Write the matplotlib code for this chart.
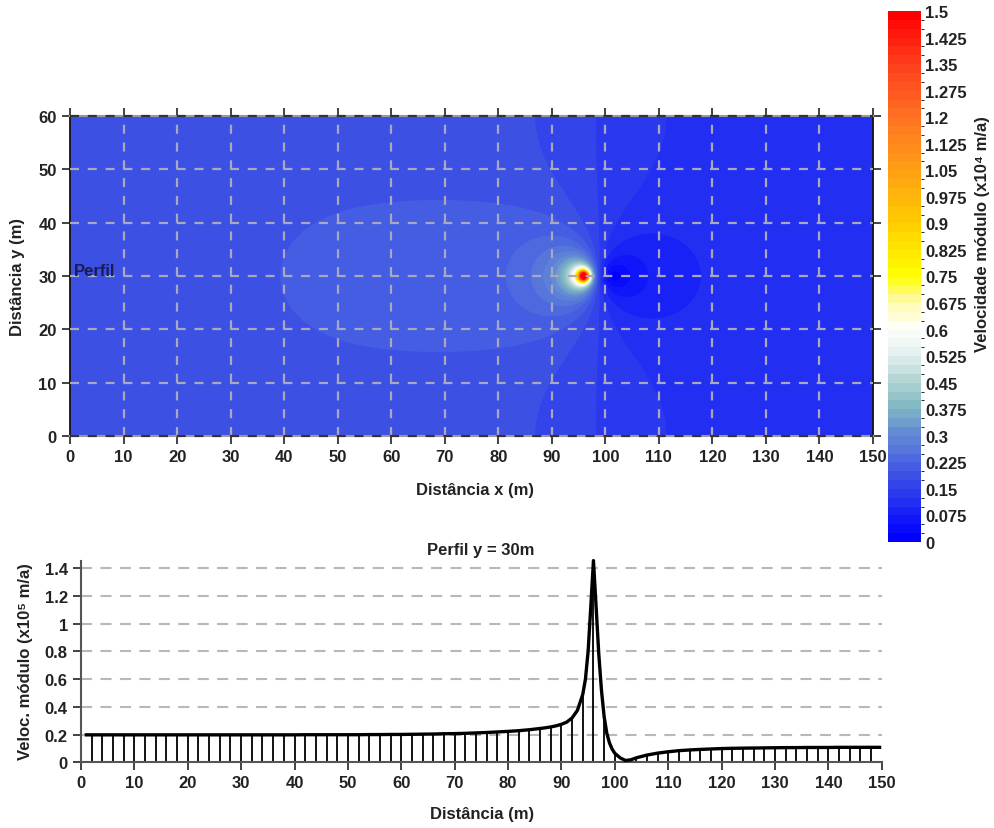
import numpy as np
import matplotlib
matplotlib.use("Agg")
import matplotlib.pyplot as plt
from matplotlib.colors import LinearSegmentedColormap, BoundaryNorm

plt.rcParams['font.family'] = ['Liberation Sans', 'DejaVu Sans']
plt.rcParams['font.weight'] = 'bold'
plt.rcParams['lines.scale_dashes'] = False

# ---------------- data ----------------
# Top map: velocity magnitude of a pumping well in a uniform regional flow
# confined between no-flow boundaries at y=0 and y=60
well_x = 96.0
well_y = 30.0
channel_width = 60.0
regional_flow = 0.15488     # far-field mean velocity (x10^4 m/a)
well_half_flux = 0.04488    # well contribution far up/down stream
x_extent = [0, 150]
y_extent = [0, 60]

# colour levels (x10^4 m/a)
level_step = 0.025
level_max = 1.5
cbar_ticks = [0, 0.075, 0.15, 0.225, 0.3, 0.375, 0.45, 0.525, 0.6, 0.675, 0.75,
              0.825, 0.9, 0.975, 1.05, 1.125, 1.2, 1.275, 1.35, 1.425, 1.5]

# Bottom profile at y = 30 m (x10^5 m/a)
prof_x = [1, 2, 4, 6, 8, 10, 12, 14, 16, 18, 20, 22, 24, 26, 28, 30, 32, 34, 36, 38, 40,
          42, 44, 46, 48, 50, 52, 54, 56, 58, 60, 62, 64, 66, 68, 70, 72, 74, 76, 78, 80,
          82, 84, 86, 87, 88, 89, 90, 91, 92, 93, 94, 94.5, 95, 95.5, 96, 96.5, 97, 97.5,
          98, 98.5, 99, 99.5, 100, 101, 102, 103, 104, 106, 108, 110, 112, 114, 116, 118,
          120, 122, 124, 126, 128, 130, 132, 134, 136, 138, 140, 142, 144, 146, 148, 149.6]
prof_v = [0.198, 0.198, 0.198, 0.198, 0.198, 0.198, 0.198, 0.198, 0.198, 0.198, 0.198,
          0.198, 0.198, 0.198, 0.198, 0.198, 0.198, 0.198, 0.198, 0.198, 0.198,
          0.199, 0.199, 0.199, 0.199, 0.199, 0.199, 0.200, 0.200, 0.201, 0.201,
          0.202, 0.203, 0.204, 0.206, 0.207, 0.209, 0.212, 0.215, 0.219, 0.223,
          0.228, 0.235, 0.244, 0.249, 0.255, 0.263, 0.274, 0.290, 0.320, 0.375,
          0.490, 0.600, 0.800, 1.120, 1.455, 1.120, 0.780, 0.520,
          0.330, 0.210, 0.140, 0.095, 0.065, 0.032, 0.013, 0.018, 0.032, 0.052,
          0.066, 0.076, 0.084, 0.089, 0.093, 0.096,
          0.099, 0.101, 0.102, 0.103, 0.104, 0.105, 0.106, 0.106, 0.107, 0.107,
          0.107, 0.108, 0.108, 0.108, 0.108, 0.108]
prof_ticks_y = [0, 0.2, 0.4, 0.6, 0.8, 1, 1.2, 1.4]
prof_tick_labels = ['0', '0.2', '0.4', '0.6', '0.8', '1', '1.2', '1.4']

# ---------------- figure ----------------
W, H = 995, 829
fig = plt.figure(figsize=(W / 100, H / 100), dpi=100)

def fx(px):
    return px / W

def fy(py):
    return 1 - py / H

# colormap
stops = [(0.0, (0, 0, 255)), (0.1125, (38, 52, 240)), (0.1875, (64, 86, 226)),
         (0.2125, (74, 100, 225)), (0.3, (100, 140, 210)), (0.375, (130, 185, 195)),
         (0.45, (180, 212, 212)), (0.525, (228, 240, 240)), (0.6, (255, 255, 252)),
         (0.675, (255, 250, 170)),
         (0.75, (255, 255, 0)), (0.9, (255, 205, 0)), (1.05, (255, 160, 20)),
         (1.2, (255, 115, 35)), (1.35, (255, 65, 30)), (1.5, (255, 0, 0))]
cmap = LinearSegmentedColormap.from_list(
    'vel', [(v / 1.5, tuple(c / 255 for c in col)) for v, col in stops])
n_levels = int(round(level_max / level_step))
levels = np.arange(n_levels + 1) * level_step
norm = BoundaryNorm(levels, cmap.N)

# field
xs = np.arange(x_extent[0], x_extent[1] + 0.25, 0.5)
ys = np.arange(y_extent[0], y_extent[1] + 0.25, 0.5)
X, Y = np.meshgrid(xs, ys)
zeta = np.pi * ((X - well_x) + 1j * (Y - well_y)) / channel_width
with np.errstate(all='ignore'):
    w = regional_flow - well_half_flux / np.tanh(zeta)
    speed = np.abs(w)
speed = np.where(np.isfinite(speed), speed, 3.0)
speed = np.clip(speed, 0, level_max - 1e-6)

ax1 = fig.add_axes([fx(70), fy(437), fx(873) - fx(70), fy(117) - fy(437)])
cf = ax1.contourf(X, Y, speed, levels=levels, cmap=cmap, norm=norm, antialiased=True)
cf.set_edgecolor('face')
cf.set_linewidth(0.8)
ax1.set_xlim(0, 150)
ax1.set_ylim(0, 60)
ax1.set_xticks(np.arange(0, 151, 10))
ax1.set_yticks(np.arange(0, 61, 10))
ax1.tick_params(axis='both', direction='out', length=6, width=1.2, labelsize=12,
                colors='#222222', top=True, right=True, labeltop=False, labelright=False)
for lab in ax1.get_xticklabels() + ax1.get_yticklabels():
    lab.set_fontweight('bold')
grid_col = '#a8a8c0'
for gx in range(10, 150, 10):
    ax1.axvline(gx, color=grid_col, lw=1.6, dashes=(6.5, 6.3), zorder=3)
for gy in range(10, 60, 10):
    ax1.axhline(gy, color=grid_col, lw=1.6, dashes=(6.5, 6.3), zorder=3)
for sp in ['top', 'bottom']:
    ax1.spines[sp].set_color('#9a9a9a')
    ax1.spines[sp].set_linewidth(1.5)
for gy in [0, 60]:
    ax1.axhline(gy, color='#333333', lw=1.6, dashes=(6.5, 6.3), zorder=4, clip_on=False)
for sp in ['left', 'right']:
    ax1.spines[sp].set_color('#111111')
    ax1.spines[sp].set_linewidth(1.3)
ax1.text(0.8, 31, 'Perfil', fontsize=12, fontweight='bold', color='#1a1a55',
         va='center', ha='left', zorder=5)
fig.text(fx(475), fy(490), 'Distância x (m)', fontsize=12, fontweight='bold',
         ha='center', va='center', color='#222222')
fig.text(fx(18), fy(277), 'Distância y (m)', fontsize=12, fontweight='bold',
         ha='center', va='center', rotation=90, color='#222222')

# colorbar
cax = fig.add_axes([fx(888), fy(543), fx(921) - fx(888), fy(12) - fy(543)])
cb = fig.colorbar(cf, cax=cax, ticks=cbar_ticks)
cb.outline.set_visible(False)
cb.ax.set_yticklabels(['{:g}'.format(t) for t in cbar_ticks])
cb.ax.tick_params(length=0, labelsize=12, pad=3, colors='#222222')
for lab in cb.ax.get_yticklabels():
    lab.set_fontweight('bold')
fig.text(fx(983), fy(234), 'Velocidade módulo (x10⁴ m/a)', fontsize=12,
         fontweight='bold', rotation=90, ha='center', va='center', color='#222222')

# bottom profile
ax2 = fig.add_axes([fx(81), fy(763.3), fx(881.7) - fx(81), fy(562.3) - fy(763.3)])
ax2.set_xlim(0, 150)
ax2.set_ylim(0, 1.45)
for gy in prof_ticks_y[1:]:
    ax2.axhline(gy, color='#b8b8b8', lw=1.5, dashes=(8, 6), zorder=1)
stem_x = [x for x in prof_x if float(x).is_integer() and int(x) % 2 == 0 and 2 <= x <= 148]
stem_v = [v for x, v in zip(prof_x, prof_v) if x in stem_x]
ax2.vlines(stem_x, 0, stem_v, color='black', lw=1.3, zorder=2)
ax2.plot(prof_x, prof_v, color='black', lw=2.4, zorder=3, clip_on=False,
         solid_joinstyle='round')
ax2.set_xticks(np.arange(0, 151, 10))
ax2.set_yticks(prof_ticks_y)
ax2.set_yticklabels(prof_tick_labels)
ax2.tick_params(axis='both', direction='out', length=6, width=1.2, labelsize=12,
                colors='#222222')
for lab in ax2.get_xticklabels() + ax2.get_yticklabels():
    lab.set_fontweight('bold')
for sp in ['top', 'right']:
    ax2.spines[sp].set_visible(False)
for sp in ['left', 'bottom']:
    ax2.spines[sp].set_color('#555555')
    ax2.spines[sp].set_linewidth(1.5)
fig.text(fx(481), fy(550), 'Perfil y = 30m', fontsize=12, fontweight='bold',
         ha='center', va='center', color='#222222')
fig.text(fx(482), fy(815), 'Distância (m)', fontsize=12, fontweight='bold',
         ha='center', va='center', color='#222222')
fig.text(fx(26), fy(662), 'Veloc. módulo (x10⁵ m/a)', fontsize=12, fontweight='bold',
         ha='center', va='center', rotation=90, color='#222222')

fig.savefig('out.png', dpi=100)
